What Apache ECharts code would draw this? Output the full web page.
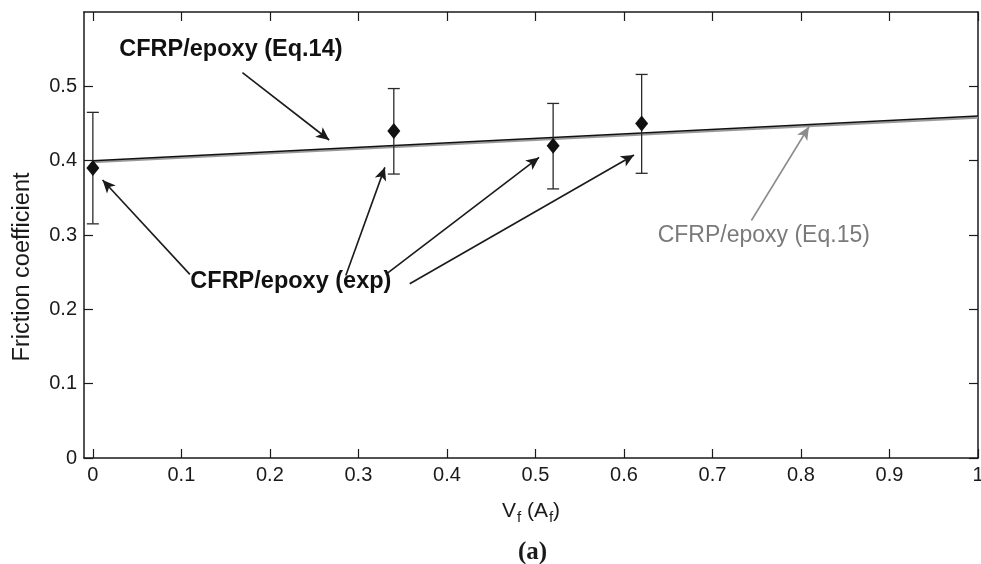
<!DOCTYPE html>
<html>
<head>
<meta charset="utf-8">
<script src="https://cdn.jsdelivr.net/npm/echarts@6/dist/echarts.min.js"></script>
<style>
  html, body { margin: 0; padding: 0; background: #fff; }
  #chart { width: 981px; height: 564px; }
</style>
</head>
<body>
<div id="chart"></div>
<script>
// experimental points
var vf = [0, 0.34, 0.52, 0.62];
var muExp = [0.39, 0.44, 0.42, 0.45];
var errLow = [0.315, 0.382, 0.362, 0.383];
var errHigh = [0.465, 0.497, 0.477, 0.516];

// model lines
var eq14 = [[0, 0.400], [1, 0.460]];
var eq15 = [[0, 0.398], [1, 0.458]];

// ticks
var xTicks = [0, 0.1, 0.2, 0.3, 0.4, 0.5, 0.6, 0.7, 0.8, 0.9, 1];
var yTicks = [0, 0.1, 0.2, 0.3, 0.4, 0.5];

// annotations (data coords)
var noteText = ['CFRP/epoxy (Eq.14)', 'CFRP/epoxy (exp)', 'CFRP/epoxy (Eq.15)'];
var notePos = [[0.156, 0.550], [0.2237, 0.2376], [0.758, 0.2993]];
var arrowsBlack = [
  [[0.169, 0.5185], [0.267, 0.4278]],
  [[0.1096, 0.247], [0.011, 0.3741]],
  [[0.2858, 0.2456], [0.3299, 0.391]],
  [[0.331, 0.247], [0.5041, 0.4044]],
  [[0.358, 0.2345], [0.6114, 0.4077]]
];
var arrowsGray = [
  [[0.744, 0.3195], [0.809, 0.4456]]
];

var ink = '#1a1a1a';
var font = 'Liberation Sans, Arial, sans-serif';

var errData = vf.map(function (x, i) { return [x, errLow[i], errHigh[i]]; });
var expData = vf.map(function (x, i) { return [x, muExp[i]]; });

var arrowItems = [];
arrowsBlack.forEach(function (a) {
  arrowItems.push([{ coord: a[0] }, { coord: a[1], lineStyle: { color: ink } }]);
});
arrowsGray.forEach(function (a) {
  arrowItems.push([{ coord: a[0], lineStyle: { color: '#8c8c8c' } }, { coord: a[1], lineStyle: { color: '#8c8c8c' } }]);
});

var noteData = notePos.map(function (p, i) {
  var gray = i === 2;
  return {
    value: p,
    label: {
      show: true,
      position: 'inside',
      formatter: noteText[i],
      fontSize: gray ? 23 : 23.5,
      fontFamily: font,
      fontWeight: gray ? 'normal' : 'bold',
      color: gray ? '#7a7a7a' : '#111'
    }
  };
});

var chart = echarts.init(document.getElementById('chart'));
var tickStyle = { show: true, inside: true, length: 9, lineStyle: { color: ink, width: 1.2 } };
var lineAxis = { show: true, onZero: false, lineStyle: { color: ink, width: 1.5 } };

chart.setOption({
  animation: false,
  backgroundColor: '#fff',
  title: {
    text: '(a)',
    left: 513,
    top: 535,
    textStyle: { fontFamily: 'Liberation Serif, Times New Roman, serif', fontWeight: 'bold', fontSize: 25, color: ink }
  },
  graphic: [{
    type: 'text',
    x: 23,
    y: 267,
    rotation: Math.PI / 2,
    style: {
      text: 'Friction coefficient',
      fontSize: 23.5,
      fontFamily: font,
      fill: ink,
      align: 'center',
      verticalAlign: 'middle'
    }
  }],
  grid: { left: 84, right: 3, top: 12, bottom: 106, outerBoundsMode: 'none', containLabel: false },
  xAxis: [{
    type: 'value',
    min: -0.01,
    max: 1,
    position: 'bottom',
    axisLine: lineAxis,
    axisTick: Object.assign({ customValues: xTicks }, tickStyle),
    axisLabel: { customValues: xTicks, margin: 7, fontSize: 20, fontFamily: font, color: ink },
    splitLine: { show: false },
    name: '{a|V}{s|f}{a| (A}{s|f}{a|)}',
    nameLocation: 'middle',
    nameGap: 40,
    nameTextStyle: {
      rich: {
        a: { fontSize: 21, fontFamily: font, color: ink },
        s: { fontSize: 15, fontFamily: font, color: ink, padding: [12, 0, 0, 1] }
      }
    }
  }, {
    type: 'value',
    min: -0.01,
    max: 1,
    position: 'top',
    axisLine: lineAxis,
    axisTick: Object.assign({ customValues: xTicks }, tickStyle),
    axisLabel: { show: false },
    splitLine: { show: false }
  }],
  yAxis: [{
    type: 'value',
    min: 0,
    max: 0.6,
    interval: 0.1,
    position: 'left',
    axisLine: lineAxis,
    axisTick: Object.assign({ customValues: yTicks }, tickStyle),
    axisLabel: { customValues: yTicks, margin: 7, fontSize: 20, fontFamily: font, color: ink },
    splitLine: { show: false }
  }, {
    type: 'value',
    min: 0,
    max: 0.6,
    interval: 0.1,
    position: 'right',
    axisLine: lineAxis,
    axisTick: Object.assign({ customValues: yTicks }, tickStyle),
    axisLabel: { show: false },
    splitLine: { show: false }
  }],
  series: [{
    name: 'Eq.15',
    type: 'line',
    data: eq15,
    symbol: 'none',
    lineStyle: { color: '#9a9a9a', width: 2.2 },
    z: 2
  }, {
    name: 'Eq.14',
    type: 'line',
    data: eq14,
    symbol: 'none',
    lineStyle: { color: '#111', width: 1.5 },
    z: 3
  }, {
    name: 'err',
    type: 'custom',
    data: errData,
    z: 4,
    renderItem: function (params, api) {
      var x = api.value(0);
      var top = api.coord([x, api.value(2)]);
      var bot = api.coord([x, api.value(1)]);
      var st = { stroke: '#2a2a2a', lineWidth: 1.3 };
      var h = 6;
      return {
        type: 'group',
        children: [
          { type: 'line', shape: { x1: top[0], y1: top[1], x2: bot[0], y2: bot[1] }, style: st },
          { type: 'line', shape: { x1: top[0] - h, y1: top[1], x2: top[0] + h, y2: top[1] }, style: st },
          { type: 'line', shape: { x1: bot[0] - h, y1: bot[1], x2: bot[0] + h, y2: bot[1] }, style: st }
        ]
      };
    }
  }, {
    name: 'exp',
    type: 'scatter',
    data: expData,
    symbol: 'diamond',
    symbolSize: [13, 16],
    itemStyle: { color: '#111', opacity: 1 },
    z: 5
  }, {
    name: 'notes',
    type: 'scatter',
    data: noteData,
    symbolSize: 0,
    itemStyle: { opacity: 1 },
    z: 6,
    markLine: {
      silent: true,
      symbol: ['none', 'arrow'],
      symbolSize: [9, 13],
      label: { show: false },
      lineStyle: { color: ink, width: 1.6, type: 'solid', opacity: 1 },
      data: arrowItems
    }
  }]
});
</script>
</body>
</html>
